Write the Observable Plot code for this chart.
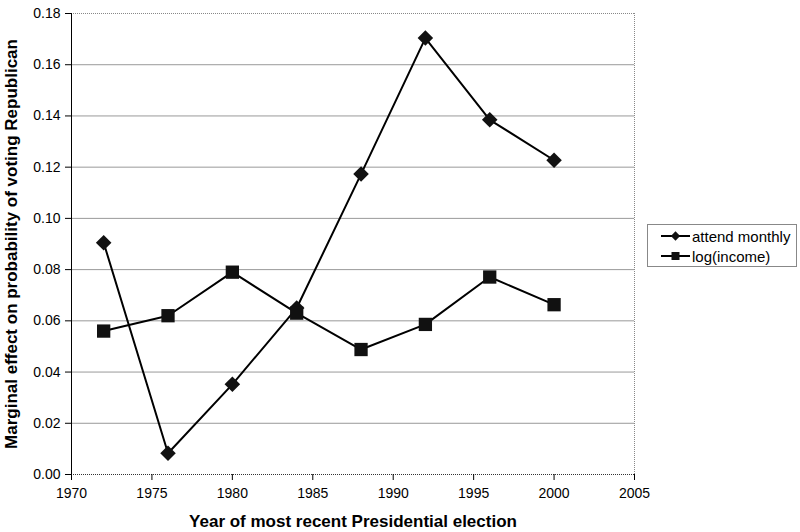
<!DOCTYPE html>
<html>
<head>
<meta charset="utf-8">
<script src="https://cdn.jsdelivr.net/npm/d3@7"></script>
<script src="https://cdn.jsdelivr.net/npm/@observablehq/plot@0.6"></script>
<style>
  html, body { margin: 0; padding: 0; background: #fff; }
  #wrap { position: relative; width: 800px; height: 532px; font-family: "Liberation Sans", Arial, sans-serif; }
  #legend { position: absolute; left: 647px; top: 224px; width: 150px; height: 43px; border: 1px solid #888; background: #fff; box-sizing: border-box; font-size: 15px; color: #000; }
  #legend .row { display: flex; align-items: center; height: 20px; padding-left: 12px; }
  #legend .row:first-child { margin-top: 1px; }
  #legend svg { margin-right: 1px; }
</style>
</head>
<body>
<div id="wrap"></div>
<script>
const years = [1972, 1976, 1980, 1984, 1988, 1992, 1996, 2000];
const attendMonthly = [0.0905, 0.0083, 0.0352, 0.0650, 0.1173, 0.1704, 0.1385, 0.1227];
const logIncome = [0.0560, 0.0620, 0.0790, 0.0630, 0.0488, 0.0586, 0.0771, 0.0663];
const yTicks = [0, 0.02, 0.04, 0.06, 0.08, 0.10, 0.12, 0.14, 0.16, 0.18];
const xTicks = [1970, 1975, 1980, 1985, 1990, 1995, 2000, 2005];
const seriesNames = ["attend monthly", "log(income)"];

const attendData = years.map((y, i) => ({year: y, value: attendMonthly[i]}));
const incomeData = years.map((y, i) => ({year: y, value: logIncome[i]}));

const chart = Plot.plot({
  width: 800,
  height: 532,
  marginLeft: 71,
  marginRight: 166,
  marginTop: 13,
  marginBottom: 58,
  style: {fontFamily: "'Liberation Sans', Arial, sans-serif", fontSize: "14px", color: "#000", background: "#fff"},
  x: {domain: [1970, 2005]},
  y: {domain: [0, 0.18]},
  marks: [
    Plot.ruleY(yTicks.filter(d => d > 0 && d < 0.18), {stroke: "#999", strokeWidth: 1}),
    Plot.ruleY([0.18], {stroke: "#888", strokeWidth: 1, strokeDasharray: "1,1"}),
    Plot.ruleX([2005], {stroke: "#888", strokeWidth: 1, strokeDasharray: "1,1"}),
    Plot.ruleY([0], {stroke: "#333", strokeWidth: 1.2, strokeDasharray: "1,1"}),
    Plot.ruleX([1970], {stroke: "#000", strokeWidth: 1}),
    Plot.axisX({ticks: xTicks, tickFormat: "d", tickSize: 6, tickPadding: 8, fontSize: 14, label: "Year of most recent Presidential election", labelAnchor: "center", labelArrow: "none", labelOffset: 52}),
    Plot.axisY({ticks: yTicks, tickFormat: ".2f", tickSize: 6, tickPadding: 5, fontSize: 14, label: "Marginal effect on probability of voting Republican", labelAnchor: "center", labelArrow: "none", labelOffset: 67}),
    Plot.line(attendData, {x: "year", y: "value", stroke: "#000", strokeWidth: 2}),
    Plot.line(incomeData, {x: "year", y: "value", stroke: "#000", strokeWidth: 2}),
    Plot.dot(attendData, {x: "year", y: "value", symbol: "diamond2", r: 7, fill: "#111", stroke: "none"}),
    Plot.dot(incomeData, {x: "year", y: "value", symbol: "square", r: 7.5, fill: "#111", stroke: "none"})
  ]
});
// bold axis labels
chart.querySelectorAll("[aria-label='x-axis label'] text, [aria-label='y-axis label'] text").forEach(t => {
  t.setAttribute("font-weight", "bold");
  t.setAttribute("font-size", "17px");
});
const wrap = document.getElementById("wrap");
wrap.appendChild(chart);

const legend = document.createElement("div");
legend.id = "legend";
const symbols = [d3.symbolDiamond2, d3.symbolSquare];
const sizes = [55, 64];
seriesNames.forEach((name, i) => {
  const row = document.createElement("div");
  row.className = "row";
  const s = d3.create("svg").attr("width", 31).attr("height", 14);
  s.append("line").attr("x1", 1).attr("x2", 30).attr("y1", 7).attr("y2", 7).attr("stroke", "#000").attr("stroke-width", 2);
  s.append("path").attr("d", d3.symbol(symbols[i], sizes[i])()).attr("transform", "translate(15.5,7)").attr("fill", "#111");
  row.appendChild(s.node());
  row.appendChild(document.createTextNode(name));
  legend.appendChild(row);
});
wrap.appendChild(legend);
</script>
</body>
</html>
